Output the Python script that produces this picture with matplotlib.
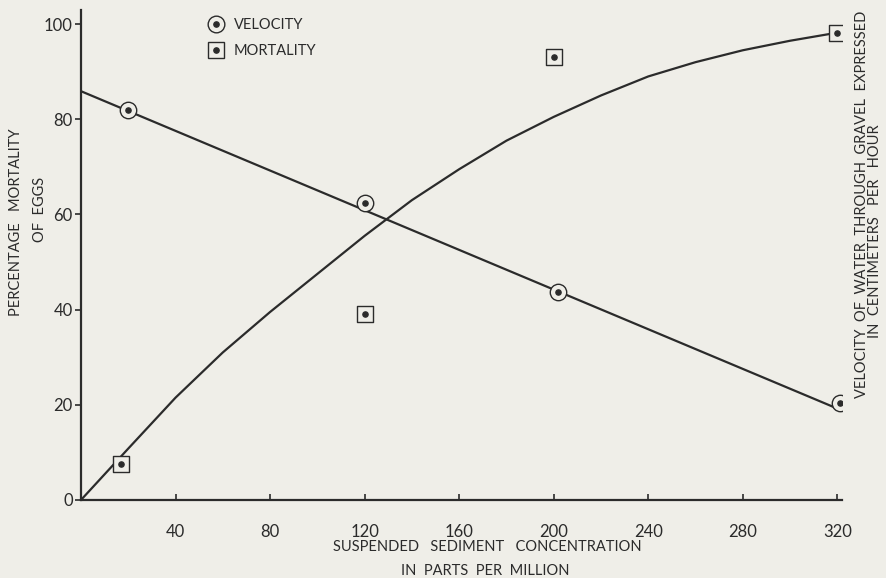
import matplotlib
matplotlib.use("Agg")
import matplotlib.pyplot as plt
from matplotlib.lines import Line2D

# sediment concentration (ppm) and measurements
velocity_x = [20, 120, 202, 321]
velocity_y = [82, 62.5, 43.6, 20.4]
mortality_x = [17, 120, 200, 320]
mortality_y = [7.5, 39, 93, 98.2]

# fitted velocity line (end points)
vel_fit_x = [0, 321]
vel_fit_y = [85.9, 19]

# fitted mortality curve, read at 20 ppm steps
mort_fit_x = [0, 20, 40, 60, 80, 100, 120, 140, 160, 180, 200, 220, 240, 260, 280, 300, 320]
mort_fit_y = [0, 10.8, 21.5, 31, 39.5, 47.5, 55.5, 63, 69.5, 75.5, 80.5, 85, 89, 92, 94.5, 96.5, 98.2]

x_ticks = [40, 80, 120, 160, 200, 240, 280, 320]
y_ticks = [0, 20, 40, 60, 80, 100]

ink = "#2b2b2b"
paper = "#efeee8"
fs = 10.5

plt.rcParams["font.family"] = ["Lato", "DejaVu Sans"]

fig = plt.figure(figsize=(8.87, 5.78), dpi=100, facecolor=paper)
ax = fig.add_axes([0.0913, 0.135, 0.858, 0.848])
ax.set_facecolor(paper)

ax.plot(vel_fit_x, vel_fit_y, color=ink, lw=1.6, zorder=2)
ax.plot(mort_fit_x, mort_fit_y, color=ink, lw=1.6, zorder=2)

ring = dict(s=140, facecolors=paper, edgecolors=ink, linewidths=1.0, zorder=3)
dot = dict(s=14, color=ink, zorder=4)
ax.scatter(velocity_x, velocity_y, marker="o", **ring)
ax.scatter(velocity_x, velocity_y, marker="o", **dot)
ax.scatter(mortality_x, mortality_y, marker="s", **ring)
ax.scatter(mortality_x, mortality_y, marker="o", **dot)

ax.set_xlim(0, 322)
ax.set_ylim(0, 103)
for side in ["top", "right"]:
    ax.spines[side].set_visible(False)
for side in ["left", "bottom"]:
    ax.spines[side].set_color(ink)
    ax.spines[side].set_linewidth(1.6)

ax.set_xticks(x_ticks)
ax.set_yticks(y_ticks)
ax.tick_params(axis="x", direction="in", length=4, width=1.2, color=ink, pad=17,
               labelsize=12, labelcolor=ink)
ax.tick_params(axis="y", direction="out", length=4, width=1.2, color=ink, pad=2,
               labelsize=12, labelcolor=ink)

# axis titles
fig.text(0.549, 0.054, "SUSPENDED   SEDIMENT   CONCENTRATION", ha="center", va="center",
         fontsize=fs, color=ink)
fig.text(0.547, 0.012, "IN  PARTS  PER  MILLION", ha="center", va="center",
         fontsize=fs, color=ink)
fig.text(0.018, 0.616, "PERCENTAGE   MORTALITY", rotation=90, ha="center", va="center",
         fontsize=fs, color=ink)
fig.text(0.045, 0.638, "OF  EGGS", rotation=90, ha="center", va="center",
         fontsize=fs, color=ink)
fig.text(0.972, 0.647, "VELOCITY  OF  WATER  THROUGH  GRAVEL  EXPRESSED", rotation=90,
         ha="center", va="center", fontsize=fs, color=ink)
fig.text(0.987, 0.600, "IN  CENTIMETERS   PER   HOUR", rotation=90,
         ha="center", va="center", fontsize=fs, color=ink)

handles = [
    (Line2D([], [], ls="", marker="o", ms=12, mfc=paper, mec=ink, mew=1.0),
     Line2D([], [], ls="", marker="o", ms=3.8, color=ink)),
    (Line2D([], [], ls="", marker="s", ms=12, mfc=paper, mec=ink, mew=1.0),
     Line2D([], [], ls="", marker="o", ms=3.8, color=ink)),
]
ax.legend(handles, ["VELOCITY", "MORTALITY"], loc="upper left",
          bbox_to_anchor=(0.149, 1.01), frameon=False, fontsize=fs,
          handlelength=1.2, handletextpad=0.6, labelspacing=0.85, labelcolor=ink)

fig.savefig("out.png", dpi=100, facecolor=paper)
